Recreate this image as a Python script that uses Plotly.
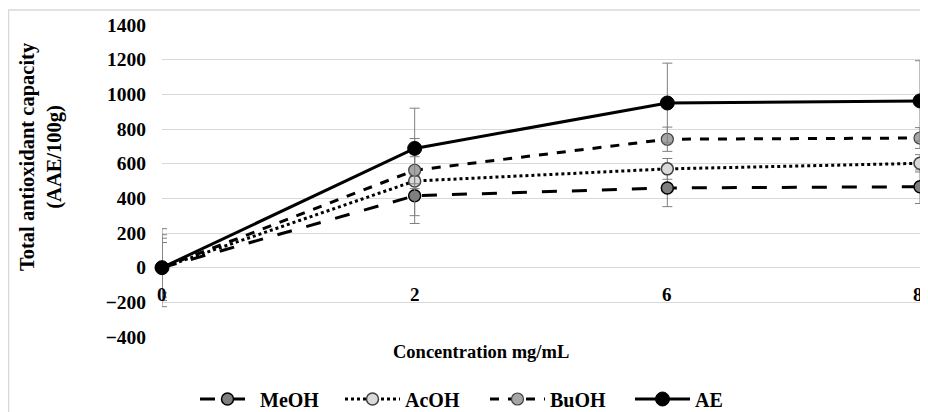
import plotly.graph_objects as go

categories = ["0", "2", "6", "8"]
series_names = ["MeOH", "AcOH", "BuOH", "AE"]
meoh = [0, 415, 460, 467]
acoh = [0, 500, 570, 602]
buoh = [0, 562, 741, 748]
ae = [0, 688, 950, 962]
meoh_err = [145, 115, 108, 97]
acoh_err = [170, 245, 60, 50]
buoh_err = [190, 78, 70, 60]
ae_err = [225, 232, 230, 232]
y_ticks = [-400, -200, 0, 200, 400, 600, 800, 1000, 1200, 1400]
x_title = "Concentration mg/mL"
y_title = "Total antioxidant capacity<br>(AAE/100g)"

FONT = "Liberation Serif"
OFF = 8  # page body margin
W, H = 920, 404
# plot area in page pixels (reference)
PL, PR, PT, PB = 162, 920, 25, 337
L, R, T, B = PL - OFF, PR - OFF, PT - OFF, PB - OFF


def px(x):
    return (x - PL) / (PR - PL)


def py(y):
    return (PB - y) / (PB - PT)


styles = {
    "MeOH": dict(dash="longdash", fill="#7f7f7f", mline=dict(color="black", width=1.5), size=12),
    "AcOH": dict(dash="dot", fill="#d9d9d9", mline=dict(color="#404040", width=1.5), size=12),
    "BuOH": dict(dash="dash", fill="#a6a6a6", mline=dict(color="#404040", width=1.2), size=12),
    "AE": dict(dash="solid", fill="black", mline=dict(color="black", width=1), size=14),
}

data = {"MeOH": (meoh, meoh_err), "AcOH": (acoh, acoh_err), "BuOH": (buoh, buoh_err), "AE": (ae, ae_err)}

fig = go.Figure()
for name in series_names:
    vals, errs = data[name]
    st = styles[name]
    fig.add_trace(go.Scatter(
        x=categories, y=vals, name=name, mode="lines+markers",
        line=dict(color="black", width=3, dash=st["dash"]),
        marker=dict(color=st["fill"], size=st["size"], line=st["mline"]),
        error_y=dict(type="data", array=errs, visible=True, color="#7f7f7f", thickness=1, width=5),
        cliponaxis=False,
    ))

annotations = []
n = len(categories)
for i, c in enumerate(categories):
    annotations.append(dict(x=i / (n - 1), y=0, xref="paper", yref="y", text=f"<b>{c}</b>", showarrow=False,
                            xanchor="center", yanchor="middle",
                            xshift=(-2 if i == n - 1 else 0),
                            yshift=-27, font=dict(family=FONT, size=19, color="black")))
annotations.append(dict(x=px(481), y=py(352), xref="paper", yref="paper", text=f"<b>{x_title}</b>",
                        xanchor="center", yanchor="middle",
                        showarrow=False, font=dict(family=FONT, size=18.5, color="black")))
annotations.append(dict(x=px(41), y=py(157), xref="paper", yref="paper", text=f"<b>{y_title}</b>",
                        xanchor="center", yanchor="middle",
                        showarrow=False, textangle=-90, font=dict(family=FONT, size=20.5, color="black")))

fig.update_layout(
    width=W, height=H,
    margin=dict(l=L, r=W - R, t=T, b=H - B, autoexpand=False),
    paper_bgcolor="white", plot_bgcolor="white",
    showlegend=True,
    legend=dict(orientation="h", x=px(195), xanchor="left", y=py(399), yanchor="middle",
                font=dict(family=FONT, size=20, color="black", weight="bold"),
                itemwidth=55, entrywidth=75, bgcolor="rgba(0,0,0,0)", tracegroupgap=0),
    xaxis=dict(type="category", range=[0, 3], showgrid=False, showticklabels=False,
               showline=False, zeroline=False, ticks=""),
    yaxis=dict(range=[-400, 1400], tickvals=y_ticks, showgrid=True, gridcolor="#d9d9d9", gridwidth=1,
               zeroline=False, showline=False, ticks="", ticklabelstandoff=15,
               tickfont=dict(family=FONT, size=19.5, color="black", weight="bold")),
    annotations=annotations,
    shapes=[dict(type="rect", xref="paper", yref="paper", x0=px(8.5), y0=py(440), x1=px(960), y1=py(10),
                 line=dict(color="#d9d9d9", width=1.5), fillcolor="rgba(0,0,0,0)", layer="below")],
)

fig.write_html("out.html")
